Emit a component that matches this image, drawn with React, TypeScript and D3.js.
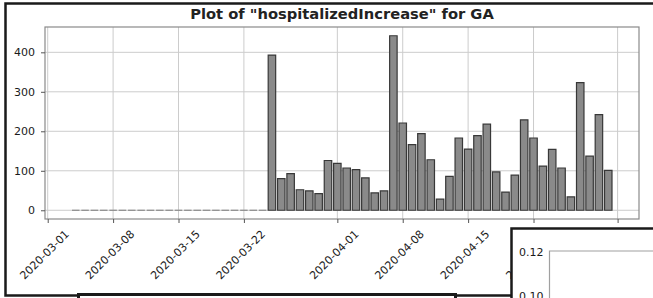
import React, { useRef, useEffect } from 'react';
import * as d3 from 'd3';

const startDate = '2020-03-04';
const endDate = '2020-05-01';

// daily hospitalizedIncrease for GA, 2020-03-04 .. 2020-04-30
const values = [
  0, 0, 0, 0, 0, 0, 0, 0, 0, 0, 0, 0, 0, 0, 0, 0, 0, 0, 0, 0, 0,
  393, 80, 93, 52, 49, 42, 126, 119, 107, 103, 82, 44, 49,
  442, 221, 166, 194, 128, 28, 86, 183, 155, 189, 218, 97, 46, 89,
  229, 183, 112, 154, 107, 34, 323, 137, 242, 101
];

const xTicks = ['2020-03-01', '2020-03-08', '2020-03-15', '2020-03-22', '2020-04-01', '2020-04-08', '2020-04-15', '2020-04-22', '2020-05-01'];
const yTicks = [0, 100, 200, 300, 400];
const insetTicks = ['0.12', '0.10'];

const title = 'Plot of "hospitalizedIncrease" for GA';

const W = 653;
const H = 298;

const Chart: React.FC = () => {
  const ref = useRef<SVGSVGElement | null>(null);

  useEffect(() => {
    if (!ref.current) return;
    const svg = d3.select(ref.current);
    svg.selectAll('*').remove();

    const font = '"DejaVu Sans", sans-serif';
    const margin = { top: 27, right: W - 639, bottom: H - 219, left: 45 };
    const innerWidth = W - margin.left - margin.right;
    const innerHeight = H - margin.top - margin.bottom;

    const parse = d3.timeParse('%Y-%m-%d');
    const dates = d3.timeDay.range(parse(startDate)!, parse(endDate)!);
    const data = dates.map((d, i) => ({ date: d, value: values[i] }));

    // matplotlib-like 5% margins around the bar extents
    const dayMs = 86400000;
    const x0 = +dates[0] - 0.4 * dayMs;
    const x1 = +dates[dates.length - 1] + 0.4 * dayMs;
    const padX = (x1 - x0) * 0.05;
    const x = d3
      .scaleTime()
      .domain([new Date(x0 - padX), new Date(x1 + padX)])
      .range([0, innerWidth]);

    const yMax = d3.max(values) || 1;
    const y = d3
      .scaleLinear()
      .domain([-yMax * 0.05, yMax * 1.05])
      .range([innerHeight, 0]);

    svg.append('rect').attr('width', W).attr('height', H).attr('fill', '#fff');

    const g = svg
      .append('g')
      .attr('transform', `translate(${margin.left},${margin.top})`);

    // grid
    const tickDates = xTicks.map(t => parse(t)!);
    g.append('g')
      .selectAll('line')
      .data(tickDates)
      .join('line')
      .attr('x1', d => x(d))
      .attr('x2', d => x(d))
      .attr('y1', 0)
      .attr('y2', innerHeight)
      .attr('stroke', '#cccccc')
      .attr('stroke-width', 1);

    g.append('g')
      .selectAll('line')
      .data(yTicks)
      .join('line')
      .attr('x1', 0)
      .attr('x2', innerWidth)
      .attr('y1', d => y(d))
      .attr('y2', d => y(d))
      .attr('stroke', '#cccccc')
      .attr('stroke-width', 1);

    // bars (paths so zero-height bars still show their edge)
    const bw = x(new Date(+dates[0] + 0.4 * dayMs)) - x(new Date(+dates[0] - 0.4 * dayMs));
    g.append('g')
      .selectAll('path')
      .data(data)
      .join('path')
      .attr('d', d => {
        const cx = x(d.date);
        const l = cx - bw / 2;
        const r = cx + bw / 2;
        return d.value > 0
          ? `M${l},${y(0)}V${y(d.value)}H${r}V${y(0)}Z`
          : `M${l},${y(0)}H${r}`;
      })
      .attr('fill', '#8a8a8a')
      .attr('stroke', d => (d.value > 0 ? '#383838' : '#8a8a8a'))
      .attr('stroke-width', 1.2);

    // spines
    g.append('rect')
      .attr('width', innerWidth)
      .attr('height', innerHeight)
      .attr('fill', 'none')
      .attr('stroke', '#8a8a8a')
      .attr('stroke-width', 1.2);

    // x axis
    const xAxis = g
      .append('g')
      .attr('transform', `translate(0,${innerHeight})`)
      .call(
        d3
          .axisBottom(x)
          .tickValues(tickDates)
          .tickSize(4)
          .tickFormat(() => '')
      );
    xAxis.select('.domain').remove();
    xAxis.selectAll('line').attr('stroke', '#555');

    g.append('g')
      .selectAll('text')
      .data(tickDates)
      .join('text')
      .attr('transform', d => `translate(${x(d) - 3},${innerHeight + 36}) rotate(-45)`)
      .attr('text-anchor', 'middle')
      .attr('dominant-baseline', 'central')
      .attr('font-family', font)
      .attr('font-size', 11)
      .attr('fill', '#1a1a1a')
      .text(d => d3.timeFormat('%Y-%m-%d')(d));

    // y axis
    const yAxis = g.append('g').call(d3.axisLeft(y).tickValues(yTicks).tickSize(4).tickPadding(6));
    yAxis.select('.domain').remove();
    yAxis.selectAll('line').attr('stroke', '#555');
    yAxis
      .selectAll('text')
      .attr('font-family', font)
      .attr('font-size', 11)
      .attr('fill', '#1a1a1a');

    // title
    svg
      .append('text')
      .attr('x', margin.left + innerWidth / 2)
      .attr('y', 19)
      .attr('text-anchor', 'middle')
      .attr('font-family', font)
      .attr('font-size', 14.7)
      .attr('font-weight', 'bold')
      .attr('fill', '#222')
      .text(title);

    // outer figure frame
    svg
      .append('path')
      .attr('d', `M${W + 5},3.5H5.5V295.5H512`)
      .attr('fill', 'none')
      .attr('stroke', '#1a1a1a')
      .attr('stroke-width', 2.5);

    // lower overlapping panel
    svg
      .append('path')
      .attr('d', `M78.5,${H + 5}V294.5H455.5V${H + 5}`)
      .attr('fill', '#fff')
      .attr('stroke', '#1a1a1a')
      .attr('stroke-width', 3);

    // inset panel in the lower right
    const inset = svg.append('g').attr('transform', 'translate(511.5,228.5)');
    inset
      .append('rect')
      .attr('width', 200)
      .attr('height', 120)
      .attr('fill', '#fff')
      .attr('stroke', '#1a1a1a')
      .attr('stroke-width', 2.5);
    inset
      .append('path')
      .attr('d', 'M38,90V22.5H200')
      .attr('fill', 'none')
      .attr('stroke', '#a0a0a0')
      .attr('stroke-width', 1.2);
    inset
      .selectAll('text')
      .data(insetTicks)
      .join('text')
      .attr('x', 32)
      .attr('y', (d, i) => 23.5 + i * 44)
      .attr('text-anchor', 'end')
      .attr('dominant-baseline', 'central')
      .attr('font-family', font)
      .attr('font-size', 11)
      .attr('fill', '#1a1a1a')
      .text(d => d);
  }, []);

  return <svg ref={ref} width={W} height={H} viewBox={`0 0 ${W} ${H}`} style={{ display: 'block' }} />;
};

const App: React.FC = () => (
  <div style={{ position: 'fixed', left: 0, top: 0, width: W, height: H, overflow: 'hidden' }}>
    <Chart />
  </div>
);

export default App;
